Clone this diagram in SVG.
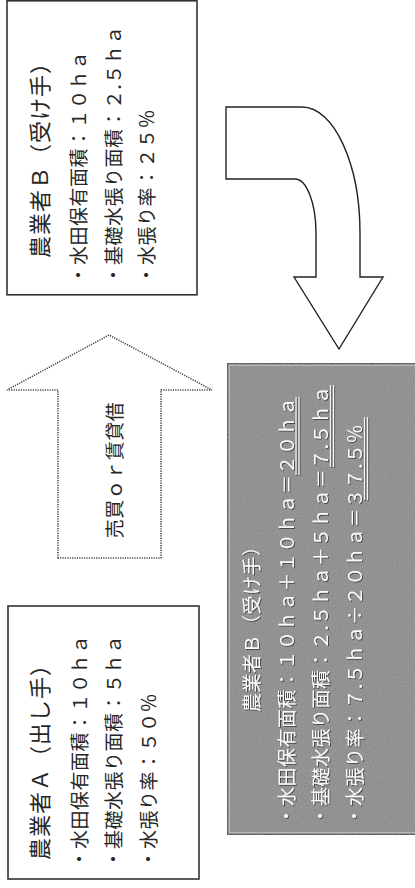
<svg xmlns="http://www.w3.org/2000/svg" width="415" height="888" viewBox="0 0 415 888">
<style>
.box{fill:#fff;stroke:#333;stroke-width:1.6}
.t{font-family:"Noto Sans CJK JP","Noto Sans",sans-serif;font-size:19px;letter-spacing:0.5px;fill:#262626}
.ti{font-size:22px;letter-spacing:1px}
.w{fill:#fafafa}
.ul{stroke:#f4f4f4;stroke-width:1.2}
.dot{fill:#fff;stroke:#444;stroke-width:1.6;stroke-dasharray:1.2 1.2}
.arr{fill:#fff;stroke:#222;stroke-width:1.4;stroke-linejoin:miter}
</style>
<defs>
<filter id="noise" x="0" y="0" width="1" height="1">
<feTurbulence type="fractalNoise" baseFrequency="0.9" numOctaves="2" seed="3" result="n"/>
<feColorMatrix in="n" type="matrix" values="0 0 0 0 0.55  0 0 0 0 0.55  0 0 0 0 0.55  0 0 0 0.35 0" result="c"/>
<feComposite in="c" in2="SourceGraphic" operator="in" result="cc"/>
<feMerge><feMergeNode in="SourceGraphic"/><feMergeNode in="cc"/></feMerge>
</filter>
<filter id="emb" x="-5%" y="-5%" width="110%" height="110%">
<feDropShadow dx="0.9" dy="0.9" stdDeviation="0.2" flood-color="#3a3a3a" flood-opacity="0.9"/>
</filter>
</defs>

<g id="nodeB">
<rect class="box" x="7" y="0.8" width="190" height="294"/>
<text class="t ti" transform="translate(48,258) rotate(-90)">農業者Ｂ（受け手）</text>
<text class="t" transform="translate(86,284.5) rotate(-90)">・水田保有面積：１０ｈａ</text>
<text class="t" transform="translate(121,284.5) rotate(-90)">・基礎水張り面積：２.５ｈａ</text>
<text class="t" transform="translate(154,284.5) rotate(-90)">・水張り率：２５％</text>
</g>

<g id="nodeA">
<rect class="box" x="8" y="606" width="191" height="273"/>
<text class="t ti" transform="translate(48,860) rotate(-90)">農業者Ａ（出し手）</text>
<text class="t" transform="translate(87,868.5) rotate(-90)">・水田保有面積：１０ｈａ</text>
<text class="t" transform="translate(121,868.5) rotate(-90)">・基礎水張り面積：５ｈａ</text>
<text class="t" transform="translate(156,868.5) rotate(-90)">・水張り率：５０％</text>
</g>

<g id="nodeResult">
<rect x="227" y="363" width="200" height="472" fill="#858585" stroke="#2a2a2a" stroke-width="1.6" filter="url(#noise)"/>
<rect x="229.5" y="365.5" width="200" height="467" fill="none" stroke="#b8b8b8" stroke-width="1"/>
<g filter="url(#emb)">
<text class="t w" transform="translate(259,712) rotate(-90)">農業者Ｂ（受け手）</text>
<text class="t w" transform="translate(294,825.5) rotate(-90)">・水田保有面積：１０ｈａ＋１０ｈａ＝２０ｈａ</text>
<text class="t w" transform="translate(328,825.5) rotate(-90)">・基礎水張り面積：２.５ｈａ＋５ｈａ＝７.５ｈａ</text>
<text class="t w" transform="translate(362,825.5) rotate(-90)">・水張り率：７.５ｈａ÷２０ｈａ＝３７.５％</text>
<path class="ul" d="M296,475V397M299,475V397M330.5,467V385M333.5,467V385M364.5,500V417M367.5,500V417"/>
</g>
</g>

<g id="connectors">
<g id="transfer">
<path class="dot" d="M58,558V390H7L109,335L212,390H161V558Z"/>
<text class="t" text-anchor="middle" transform="translate(122,470) rotate(-90)">売買ｏｒ賃貸借</text>
</g>
<path id="result-arrow" class="arr" d="M226,107H302C334,107 360,164 360,233V277H383L339,349L294,277H316V233C316,203 306.5,179 295,179H226Z"/>
</g>
</svg>
